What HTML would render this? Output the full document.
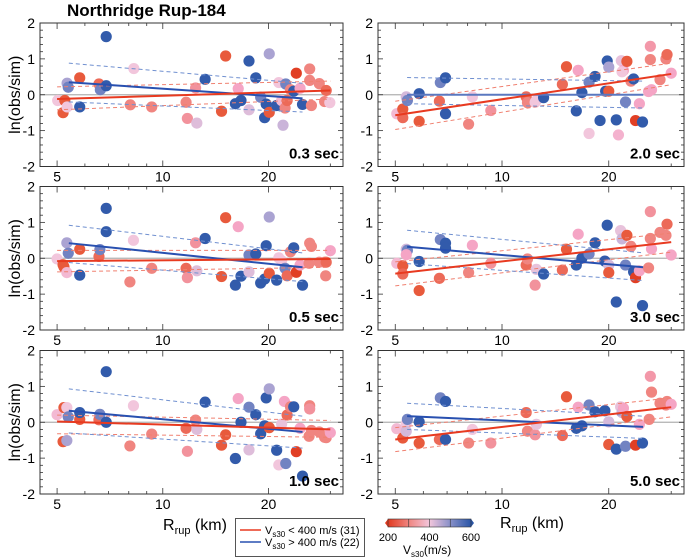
<!DOCTYPE html>
<html><head><meta charset="utf-8"><style>
html,body{margin:0;padding:0;background:#fff;}
svg{display:block;font-family:"Liberation Sans",Arial,sans-serif;}
</style></head><body>
<svg id="chart" width="685" height="559" viewBox="0 0 685 559" xmlns="http://www.w3.org/2000/svg">
<text x="67" y="16" font-size="17" font-weight="bold">Northridge Rup-184</text>
<g id="panels"></g>
<text x="163" y="530" font-size="16">R<tspan font-size="11" dy="4">rup</tspan><tspan dy="-4"> (km)</tspan></text>
<text x="500" y="528" font-size="16">R<tspan font-size="11" dy="4">rup</tspan><tspan dy="-4"> (km)</tspan></text>
<g>
<rect x="235.5" y="518.5" width="129" height="38" fill="#fff" stroke="#555" stroke-width="1"/>
<line x1="240" y1="530" x2="261" y2="530" stroke="#e83a20" stroke-width="1.5"/>
<text x="265" y="534" font-size="11">V<tspan font-size="8" dy="3">s30</tspan><tspan dy="-3"> &lt; 400 m/s (31)</tspan></text>
<line x1="240" y1="542" x2="261" y2="542" stroke="#2850b0" stroke-width="1.5"/>
<text x="265" y="546" font-size="11">V<tspan font-size="8" dy="3">s30</tspan><tspan dy="-3"> &gt; 400 m/s (22)</tspan></text>
</g>
<g>
<defs><linearGradient id="cb" x1="0" x2="1" y1="0" y2="0">
<stop offset="0" stop-color="#e03a20"/><stop offset="0.25" stop-color="#f08580"/><stop offset="0.5" stop-color="#f2c6dc"/><stop offset="0.75" stop-color="#8890c8"/><stop offset="1" stop-color="#2a56a8"/></linearGradient></defs>
<polygon points="385,523 388,519 388,527" fill="#e03a20"/>
<polygon points="474,523 471,519 471,527" fill="#2a56a8"/>
<rect x="388" y="519" width="83" height="8" fill="url(#cb)" stroke="#333" stroke-width="0.6"/>
<line x1="408.75" y1="519" x2="408.75" y2="527" stroke="#333" stroke-width="0.6"/>
<line x1="429.5" y1="519" x2="429.5" y2="527" stroke="#333" stroke-width="0.6"/>
<line x1="450.25" y1="519" x2="450.25" y2="527" stroke="#333" stroke-width="0.6"/>
<text x="388" y="541" font-size="11" text-anchor="middle">200</text>
<text x="429.5" y="541" font-size="11" text-anchor="middle">400</text>
<text x="471" y="541" font-size="11" text-anchor="middle">600</text>
<text x="403" y="554" font-size="12">V<tspan font-size="8" dy="3">s30</tspan><tspan dy="-3">(m/s)</tspan></text>
</g>
</svg>
<script>
// ---- data ----
const periods = ["0.3 sec","2.0 sec","0.5 sec","3.0 sec","1.0 sec","5.0 sec"];
const xTicks = [5,10,20];
const xMinor = [6,7,8,9,30];
const yTicks = [-2,-1,0,1,2];

const p1R=[5.02,5.2,5.26,5.34,5.34,5.38,5.8,5.8,6.58,6.64,6.9,6.9,8.08,8.27,9.3,11.65,11.75,12.4,12.5,13.2,14.7,15.1,16.1,16.4,16.7,17.6,17.6,18.4,19.0,19.5,19.7,20.1,20.1,21.1,21.4,21.8,22.0,22.3,22.4,22.6,23.1,23.6,24.0,24.6,25.0,26.2,26.2,26.5,27.9,28.9,29.2,29.9];
const p1V=[-0.16,-0.5,-0.16,-0.34,0.32,0.21,0.47,-0.34,0.3,0.14,0.25,1.62,-0.28,0.73,-0.34,-0.21,-0.66,0.19,-0.79,0.43,-0.46,1.08,-0.25,0.17,-0.16,0.94,-0.42,0.47,-0.07,-0.64,-0.26,-0.49,1.14,-0.3,0.34,-0.16,-0.85,-0.37,0.3,-0.16,0.14,0.1,0.6,0.18,-0.27,0.4,0.72,-0.3,0.31,-0.19,0.12,-0.22];
const p1Vs=[400,235,235,400,470,520,235,590,265,520,590,590,300,400,300,300,320,320,420,590,235,235,590,350,590,590,420,590,520,590,590,235,470,590,400,380,440,300,520,265,300,590,205,350,590,300,300,300,300,300,265,400];

const p2R=[5.05,5.25,5.25,5.37,5.41,5.84,5.84,6.66,6.7,6.93,6.93,8.05,8.25,9.3,11.7,11.8,12.4,12.5,13.1,14.8,15.2,16.2,16.4,16.8,17.6,17.6,18.3,18.9,19.8,19.6,20.0,20.0,21.0,21.3,21.7,22.0,21.8,22.3,22.5,23.1,23.5,23.8,24.4,24.9,25.9,26.2,26.2,26.4,27.9,29.0,29.2,30.0];
const p2V=[-0.53,-0.4,-0.64,-0.06,-0.16,0.03,-0.74,-0.18,0.34,0.47,-0.53,-0.82,-0.06,-0.44,-0.06,-0.22,-0.21,-0.16,-0.08,0.29,0.78,-0.45,0.68,0.06,0.35,-1.08,0.51,-0.72,0.94,0.1,0.1,0.77,-0.7,-1.12,0.95,0.68,0.64,-0.2,0.93,0.38,0.44,-0.72,-0.25,-0.76,0.09,1.35,0.98,0.14,0.42,1.0,1.12,0.6];
const p2Vs=[380,235,265,430,520,590,235,265,520,590,590,300,400,320,265,300,400,400,590,265,235,590,350,590,520,400,590,590,590,590,235,470,590,370,410,350,400,520,235,300,590,205,350,590,350,330,300,350,300,300,265,350];

const p3R=[5.0,5.2,5.23,5.33,5.33,5.38,5.8,5.8,6.58,6.62,6.9,6.9,8.06,8.25,9.3,11.65,11.75,12.4,12.5,13.2,14.7,15.1,16.1,16.4,16.7,17.6,17.6,18.4,19.0,19.5,19.7,20.1,20.1,21.1,21.4,21.8,22.3,22.6,23.1,23.6,24.0,24.6,25.0,26.1,26.2,26.5,27.9,28.9,29.1,29.2,30.0];
const p3V=[-0.02,-0.18,-0.24,-0.4,0.43,0.14,0.25,-0.47,0.05,0.24,0.74,1.39,-0.66,0.5,-0.28,-0.28,-0.54,0.43,-0.35,0.55,-0.51,1.13,-0.75,0.88,-0.5,0.09,-0.38,0.12,-0.69,-0.58,0.35,-0.42,1.15,-0.61,0.01,-0.07,-0.28,-0.49,0.18,0.29,-0.39,-0.19,-0.75,-0.14,0.42,0.33,-0.11,-0.11,-0.49,-0.11,0.21];
const p3Vs=[400,235,235,380,470,520,235,590,265,520,590,590,300,400,300,265,320,320,420,590,235,235,590,350,590,520,420,590,590,590,590,235,470,590,400,400,520,265,300,590,205,350,590,300,300,300,300,300,300,265,350];

const p4R=[5.05,5.25,5.25,5.37,5.41,5.37,5.84,5.84,6.66,6.7,6.93,6.93,8.05,8.25,9.3,11.7,11.8,12.4,12.5,13.1,14.8,15.2,16.2,16.4,16.8,17.6,18.3,19.5,19.8,20.0,20.0,21.0,21.6,21.8,22.5,22.3,23.1,23.5,23.8,24.4,24.9,25.9,26.2,26.2,26.4,27.9,29.0,29.2,30.0];
const p4V=[-0.14,-0.21,-0.44,0.25,0.22,0.1,-0.9,-0.09,-0.56,0.52,0.42,0.28,-0.4,0.36,-0.14,-0.19,-0.02,-0.75,-0.31,-0.44,-0.33,0.25,-0.19,0.67,0.0,0.12,0.43,-0.08,0.92,-0.19,-0.4,-1.22,0.77,0.54,0.64,-0.19,0.33,-0.38,-0.54,-0.35,-1.32,-0.27,1.3,0.55,0.26,0.72,0.64,0.95,0.09];
const p4Vs=[380,235,265,430,520,350,235,590,265,520,590,590,300,350,320,265,300,320,410,590,265,235,590,350,590,520,590,590,590,430,235,590,410,440,235,520,300,590,205,350,590,300,320,300,350,300,300,265,350];

const p5R=[5.0,5.2,5.23,5.33,5.33,5.38,5.8,5.8,6.58,6.62,6.9,6.9,8.06,8.25,9.3,11.65,11.75,12.4,12.5,13.2,14.7,15.1,16.1,16.4,16.7,17.6,17.6,18.4,19.0,19.5,19.7,20.1,20.1,21.1,21.4,21.8,22.2,22.4,22.6,23.1,23.6,24.0,24.6,25.0,26.1,26.2,26.2,26.5,27.9,28.9,29.2,30.0];
const p5V=[0.21,-0.54,0.41,0.41,-0.51,0.15,0.08,0.27,0.07,0.22,0.0,1.41,-0.66,0.46,-0.33,-0.17,-0.81,0.06,-0.2,0.56,-0.64,-0.35,-1.01,0.66,0.0,0.42,-0.77,0.21,-0.32,-0.1,0.68,-0.15,0.93,-0.78,-1.19,-0.05,0.58,-1.15,0.2,0.43,0.43,-0.82,-0.17,-1.5,-0.39,0.46,0.37,-0.23,-0.27,-0.42,-0.43,-0.29];
const p5Vs=[380,235,235,400,470,520,235,590,265,520,590,590,300,400,300,265,320,300,420,590,235,235,590,350,590,520,420,590,590,590,590,235,470,590,400,410,350,520,265,300,590,205,350,590,300,300,320,300,300,300,300,350];

const p6R=[5.05,5.25,5.37,5.37,5.41,5.84,5.84,6.66,6.7,6.93,6.93,8.05,8.25,9.3,11.7,11.8,12.4,12.5,14.8,15.2,16.2,16.4,16.8,17.6,18.3,19.5,20.0,20.0,21.0,21.6,21.8,22.0,22.3,22.5,23.8,24.4,24.9,26.0,26.2,26.4,27.9,29.0,29.2,30.0];
const p6V=[-0.18,-0.44,-0.04,-0.25,0.08,-0.58,0.01,-0.48,0.68,0.58,-0.48,-0.58,-0.2,-0.58,0.27,-0.25,-0.35,-0.06,-0.37,0.71,-0.17,0.42,-0.1,0.48,0.29,0.32,0.01,-0.62,-0.75,0.43,0.27,0.39,-0.67,0.16,-0.64,-0.06,-0.58,0.08,1.28,0.84,0.53,0.48,0.58,0.5];
const p6Vs=[380,235,400,430,520,235,590,265,520,590,590,300,400,320,265,300,320,410,265,235,590,350,590,520,590,590,430,235,590,410,440,350,520,235,205,350,590,300,330,300,300,300,300,350];

// fit values: [value at start, value at end]; red spans R 5-30, blue spans R 5.4-25
const redRange=[5,30];
const blueRange=[5.4,25];
const redFit   =[[-0.12,0.12],[-0.57,0.58],[-0.08,-0.02],[-0.43,0.45],[0.02,-0.2],[-0.48,0.42]];
const redHi    =[[0.22,0.38],[-0.18,0.88],[0.22,0.22],[-0.1,0.7],[0.2,0.05],[-0.15,0.68]];
const redLo    =[[-0.42,-0.12],[-0.97,0.28],[-0.38,-0.25],[-0.77,0.17],[-0.32,-0.42],[-0.82,0.15]];
const blueFit  =[[0.35,-0.1],[0.0,0.0],[0.42,-0.25],[0.32,-0.25],[0.32,-0.27],[0.17,-0.13]];
const blueHi   =[[0.88,0.32],[0.48,0.38],[0.92,0.15],[0.78,0.15],[0.93,0.17],[0.53,0.17]];
const blueLo   =[[-0.2,-0.48],[-0.25,-0.37],[-0.12,-0.65],[-0.15,-0.62],[-0.3,-0.72],[-0.2,-0.45]];

const panelR=[p1R,p2R,p3R,p4R,p5R,p6R];
const panelV=[p1V,p2V,p3V,p4V,p5V,p6V];
const panelVs=[p1Vs,p2Vs,p3Vs,p4Vs,p5Vs,p6Vs];

// ---- layout ----
const NS="http://www.w3.org/2000/svg";
const colX=[[40,343],[378,684]];
const rowY=[23,186.5,350.5];
const PH=143.5;
const logMin=Math.log(4.47), logMax=Math.log(32.6);

function cmap(v){
  const st=[[200,[224,58,32]],[235,[232,90,60]],[265,[236,106,88]],[300,[240,133,128]],[350,[245,165,197]],[400,[242,198,220]],[450,[192,176,216]],[500,[136,144,200]],[550,[80,112,184]],[600,[42,86,168]]];
  if(v<=st[0][0]) return "rgb("+st[0][1]+")";
  for(let i=1;i<st.length;i++){
    if(v<=st[i][0]){const t=(v-st[i-1][0])/(st[i][0]-st[i-1][0]);
      const c=st[i-1][1].map((a,k)=>Math.round(a+(st[i][1][k]-a)*t));return "rgb("+c+")";}
  }
  return "rgb("+st[st.length-1][1]+")";
}
function mk(tag,attrs,parent){const e=document.createElementNS(NS,tag);for(const k in attrs)e.setAttribute(k,attrs[k]);parent.appendChild(e);return e;}

const root=document.getElementById("panels");
for(let p=0;p<6;p++){
  const col=p%2,row=Math.floor(p/2);
  const x0=colX[col][0],x1=colX[col][1],y0=rowY[row],y1=y0+PH;
  const xs=r=>x0+(Math.log(r)-logMin)/(logMax-logMin)*(x1-x0);
  const ys=v=>y0+(2-v)/4*PH;
  const g=mk("g",{},root);
  
  
  // zero line
  mk("line",{x1:x0,x2:x1,y1:ys(0),y2:ys(0),stroke:"#b0b0b0","stroke-width":1.2},g);
  // points
  const R=panelR[p],V=panelV[p],VS=panelVs[p];
  for(let i=0;i<R.length;i++){
    const c=mk("circle",{cx:xs(R[i]),cy:ys(V[i]),r:5.6,fill:cmap(VS[i])},g);
    
    
  }
  // dashed CIs
  const dl=(rng,vals,col,name)=>{const l=mk("line",{x1:xs(rng[0]),x2:xs(rng[1]),y1:ys(vals[0]),y2:ys(vals[1]),stroke:col,"stroke-width":1,"stroke-dasharray":"4,3"},g);
    
    };
  dl(redRange,redHi[p],"#f08070","red-ci-upper");
  dl(redRange,redLo[p],"#f08070","red-ci-lower");
  dl(blueRange,blueHi[p],"#7090d0","blue-ci-upper");
  dl(blueRange,blueLo[p],"#7090d0","blue-ci-lower");
  const fl=(rng,vals,col,name)=>{const l=mk("line",{x1:xs(rng[0]),x2:xs(rng[1]),y1:ys(vals[0]),y2:ys(vals[1]),stroke:col,"stroke-width":2},g);
    
    };
  fl(blueRange,blueFit[p],p===1?"#5a78c0":"#2850b0","blue-fit-line");
  fl(redRange,redFit[p],"#e83a20","red-fit-line");
  // frame
  mk("rect",{x:x0,y:y0,width:x1-x0,height:PH,fill:"none",stroke:"#333","stroke-width":1},g);
  // y ticks
  for(let k=-20;k<=20;k+=2){
    const v=k/10,yy=ys(v),major=(k%10===0),L=major?5:3;
    mk("line",{x1:x0,x2:x0+L,y1:yy,y2:yy,stroke:"#333","stroke-width":0.8},g);
    mk("line",{x1:x1,x2:x1-L,y1:yy,y2:yy,stroke:"#333","stroke-width":0.8},g);
  }
  yTicks.forEach(v=>{
    const t=mk("text",{x:x0-5,y:ys(v)+5,"font-size":14,"text-anchor":"end"},g);t.textContent=String(v);
    
    
  });
  // x ticks
  xTicks.concat(xMinor).forEach(r=>{
    const xx=xs(r),L=xTicks.includes(r)?6:3;
    mk("line",{x1:xx,x2:xx,y1:y1,y2:y1-L,stroke:"#333","stroke-width":0.8},g);
    mk("line",{x1:xx,x2:xx,y1:y0,y2:y0+L,stroke:"#333","stroke-width":0.8},g);
  });
  xTicks.forEach(r=>{
    const t=mk("text",{x:xs(r),y:y1+15,"font-size":14,"text-anchor":"middle"},g);t.textContent=String(r);
    
    
  });
  // period label
  const pl=mk("text",{x:x1-4,y:y1-8,"font-size":15,"font-weight":"bold","text-anchor":"end"},g);
  pl.textContent=periods[p];
  
  
  if(col===0){
    const yt=mk("text",{x:0,y:0,"font-size":16,"text-anchor":"middle",transform:"translate(20,"+(y0+PH/2)+") rotate(-90)"},g);
    yt.textContent="ln(obs/sim)";
    
    
  }
}
</script>
</body></html>
